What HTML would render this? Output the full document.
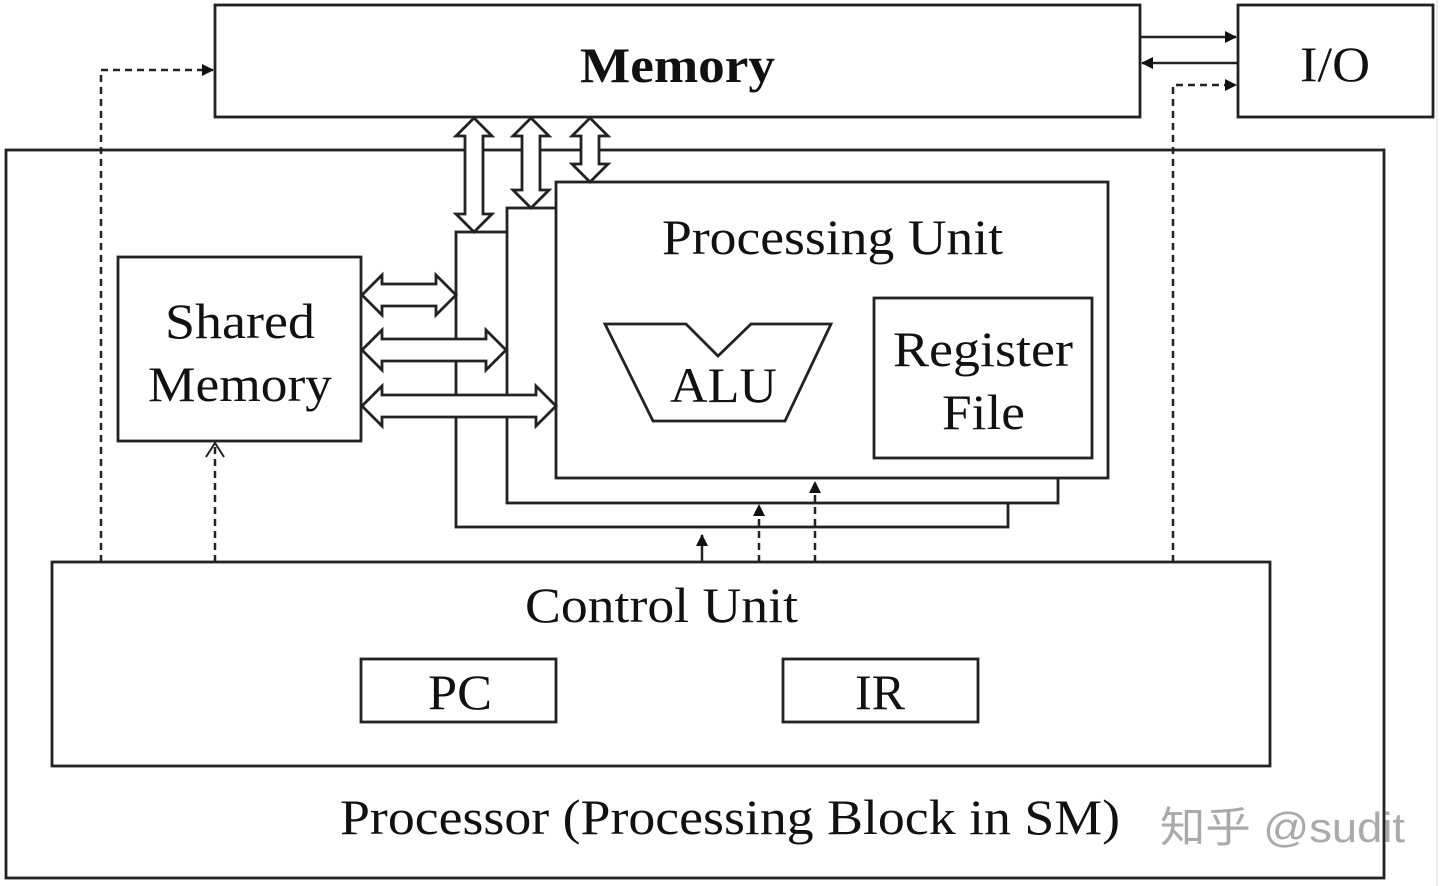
<!DOCTYPE html>
<html><head><style>body{margin:0;background:#fff}svg{display:block}</style></head><body>
<svg width="1440" height="886" viewBox="0 0 1440 886" xmlns="http://www.w3.org/2000/svg">
<defs>
<marker id="ah" markerWidth="12" markerHeight="12" refX="11" refY="6" orient="auto" markerUnits="userSpaceOnUse"><path d="M0,0 L12,6 L0,12 Z" fill="#111"/></marker>
</defs>
<rect width="1440" height="886" fill="#fff"/>
<line x1="1437" y1="0" x2="1437" y2="886" stroke="#ddd" stroke-width="1"/>
<g fill="#fff" stroke="#222" stroke-width="2.8">
<rect x="215" y="5" width="925" height="112"/>
<rect x="1238" y="5" width="195" height="112"/>
<rect x="6" y="150" width="1378" height="728"/>
<rect x="456" y="232" width="552" height="295"/>
<rect x="507" y="208" width="551" height="295"/>
<rect x="556" y="182" width="552" height="296"/>
<rect x="118" y="257" width="243" height="184"/>
<rect x="874" y="298" width="218" height="160"/>
<polygon points="605,324 686,324 718,356 751,324 831,324 785,421 653,421"/>
<rect x="52" y="562" width="1218" height="204"/>
<rect x="361" y="659" width="195" height="63"/>
<rect x="783" y="659" width="195" height="63"/>
</g>
<g fill="#fff" stroke="#222" stroke-width="2.8" stroke-linejoin="miter">
<polygon points="474,118 492,136 483,136 483,214 492,214 474,232 456,214 465,214 465,136 456,136"/>
<polygon points="531,118 549,136 540,136 540,190 549,190 531,208 513,190 522,190 522,136 513,136"/>
<polygon points="590,118 608,136 599,136 599,164 608,164 590,182 572,164 581,164 581,136 572,136"/>
<polygon points="362,295 382,275 382,284 436,284 436,275 456,295 436,315 436,306 382,306 382,315"/>
<polygon points="362,350 382,330 382,339 486,339 486,330 506,350 486,370 486,361 382,361 382,370"/>
<polygon points="362,406 382,386 382,395 536,395 536,386 556,406 536,426 536,417 382,417 382,426"/>
</g>
<g stroke="#222" stroke-width="2.5" fill="none">
<line x1="1141" y1="37" x2="1236" y2="37" marker-end="url(#ah)"/>
<line x1="1237" y1="63" x2="1142" y2="63" marker-end="url(#ah)"/>
</g>
<g stroke="#222" stroke-width="2.5" fill="none" stroke-dasharray="7,5">
<polyline points="101,562 101,70 213,70" marker-end="url(#ah)"/>
<polyline points="1173,562 1173,85 1236,85" marker-end="url(#ah)"/>
<line x1="215" y1="562" x2="215" y2="446"/>
<line x1="759" y1="562" x2="759" y2="505" marker-end="url(#ah)"/>
<line x1="815" y1="562" x2="815" y2="482" marker-end="url(#ah)"/>
</g>
<line x1="702" y1="562" x2="702" y2="535" stroke="#222" stroke-width="2.5" marker-end="url(#ah)"/>
<polyline points="206,457 215,443 224,457" stroke="#222" stroke-width="2" fill="none"/>
<g font-family="'Liberation Serif',serif" fill="#111" lengthAdjust="spacingAndGlyphs">
<text x="580" y="82" font-size="50" font-weight="bold" textLength="195" lengthAdjust="spacingAndGlyphs">Memory</text>
<text x="1300" y="81" font-size="50" textLength="70" lengthAdjust="spacingAndGlyphs">I/O</text>
<text x="662" y="254" font-size="50" textLength="341" lengthAdjust="spacingAndGlyphs">Processing Unit</text>
<text x="165" y="338" font-size="50" textLength="150" lengthAdjust="spacingAndGlyphs">Shared</text>
<text x="148" y="401" font-size="50" textLength="184" lengthAdjust="spacingAndGlyphs">Memory</text>
<text x="893" y="366" font-size="50" textLength="180" lengthAdjust="spacingAndGlyphs">Register</text>
<text x="942" y="429" font-size="50" textLength="83" lengthAdjust="spacingAndGlyphs">File</text>
<text x="670" y="402" font-size="50" textLength="107" lengthAdjust="spacingAndGlyphs">ALU</text>
<text x="525" y="622" font-size="50" textLength="273" lengthAdjust="spacingAndGlyphs">Control Unit</text>
<text x="428" y="709" font-size="50" textLength="64" lengthAdjust="spacingAndGlyphs">PC</text>
<text x="855" y="709" font-size="50" textLength="50" lengthAdjust="spacingAndGlyphs">IR</text>
<text x="340" y="834" font-size="50" textLength="780" lengthAdjust="spacingAndGlyphs">Processor (Processing Block in SM)</text>
</g>
<text x="1160" y="842" font-family="'Liberation Sans','Noto Sans CJK SC',sans-serif" font-size="42" fill="#aaa" textLength="245" lengthAdjust="spacingAndGlyphs">知乎 @sudit</text>
</svg>
</body></html>
